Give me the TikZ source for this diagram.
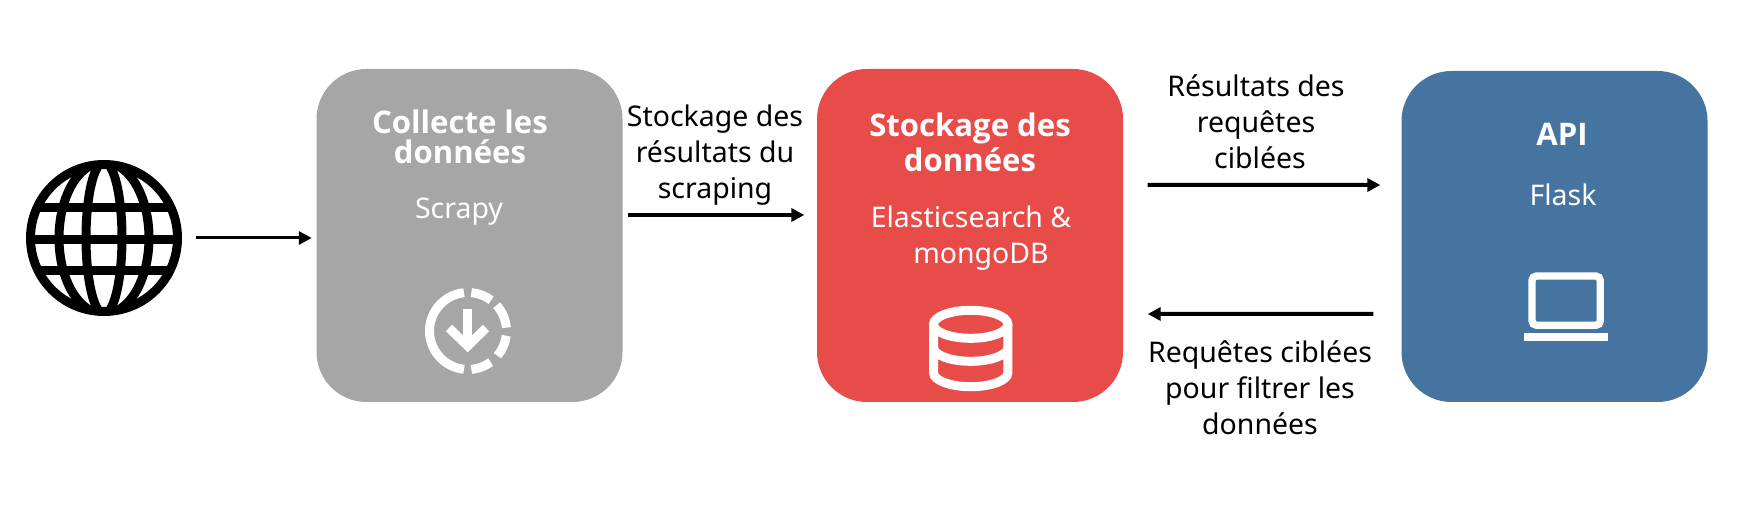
\documentclass[tikz,border=0pt]{standalone}
\usepackage{fontspec}
\setmainfont{Noto Sans}
\newfontfamily\titlefont{Open Sans}
\usetikzlibrary{arrows.meta}
\definecolor{boxgray}{HTML}{A6A6A6}
\definecolor{boxred}{HTML}{E84C49}
\definecolor{boxblue}{HTML}{44749F}
\tikzset{
	block/.style={rectangle,rounded corners=5mm,minimum width=30.6mm,minimum height=33.3mm,inner sep=0pt},
	title/.style={white,align=center,inner sep=0pt,font=\fontsize{8.85}{8.4}\titlefont\bfseries},
	tool/.style={white,align=center,inner sep=0pt,font=\fontsize{8.1}{10.24}\selectfont},
	label/.style={black,align=center,inner sep=0pt,font=\fontsize{8.1}{10.24}\selectfont},
	flow/.style={line width=.4mm,-{Triangle[length=1.3mm,width=1.3mm]}},
	icon/.style={white,line width=.9mm},
	globeline/.style={black,line width=.9mm},
}
\begin{document}
\begin{tikzpicture}[x=.1mm,y=-.1mm]
	\useasboundingbox (0,0) rectangle (1740,508);
	% blocks
	\node[block,fill=boxgray] (collecte) at (469.5,235.5) {};
	\node[block,fill=boxred] (stockage) at (970,235.5) {};
	\node[block,fill=boxblue,minimum height=33.1mm] (api) at (1554.5,236.5) {};
	% globe
	\node[circle,draw=black,fill=white,line width=.9mm,minimum size=14.7mm,inner sep=0pt] (globe) at (104,238) {};
	\begin{scope}
		\clip (globe.center) circle [radius=7.4mm];
		\foreach \y in {208,239.5,271}
			\draw[globeline] (20,\y) -- (190,\y);
		\draw[globeline] (globe.center) ellipse (1.8mm and 7.6mm);
		\draw[globeline] (globe.center) ellipse (4.5mm and 7.6mm);
	\end{scope}
	% texts
	\node[title] (collectetitle) at (460,137) {Collecte les\\données};
	\node[tool] (scrapy) at (459,212) {Scrapy};
	\node[title] (stockagetitle) at (970,142.5) {Stockage des\\données};
	\node[tool] (elastic) at (971,238) {Elasticsearch \&\\\hspace*{2mm}mongoDB};
	\node[title] (apititle) at (1562,134) {API};
	\node[tool] (flask) at (1563,195) {Flask};
	\node[label] (scraping) at (715,155) {Stockage des\\résultats du\\scraping};
	\node[label] (resultats) at (1256,122) {Résultats des\\requêtes\\\hspace*{.8mm}ciblées};
	\node[label] (requetes) at (1260,388) {Requêtes ciblées\\pour filtrer les\\données};
	% arrows
	\draw[flow,line width=.3mm,shorten <=1.4mm,shorten >=.4mm] (globe.east) -- (globe.east -| collecte.west);
	\draw[flow,shorten <=.5mm,shorten >=1.2mm] ([yshift=2.05mm]collecte.east) -- ([yshift=2.05mm]stockage.west);
	\draw[flow,shorten <=2.4mm,shorten >=2.05mm] ([yshift=5.05mm]stockage.east) -- ([yshift=5.15mm]api.west);
	\draw[flow,shorten <=2.75mm,shorten >=2.4mm] ([yshift=-7.75mm]api.west) -- ([yshift=-7.85mm]stockage.east);
	% download icon
	\foreach \a/\b in {96/264,275/306,320/353,365/402,413/445}
		\draw[icon] (468,331) ++(\a:3.85mm) arc (\a:\b:3.85mm);
	\draw[icon] (467.7,309) -- (467.7,345);
	\draw[icon] (449,328) -- (467.7,346) -- (486,328);
	% database icon
	\draw[icon] (970.7,324.3) ellipse (3.72mm and 1.4mm);
	\draw[icon] (933.5,324.3) -- (933.5,372.7) arc (180:360:3.72mm and 1.4mm) -- (1007.9,324.3);
	\draw[icon] (933.5,347.3) arc (180:360:3.72mm and 1.4mm);
	% laptop icon
	\draw[icon,line width=.73mm,rounded corners=.45mm] (1532,276) rectangle (1600.3,325.3);
	\fill[white] (1524.3,332.7) rectangle (1607.7,340.7);
\end{tikzpicture}
\end{document}
